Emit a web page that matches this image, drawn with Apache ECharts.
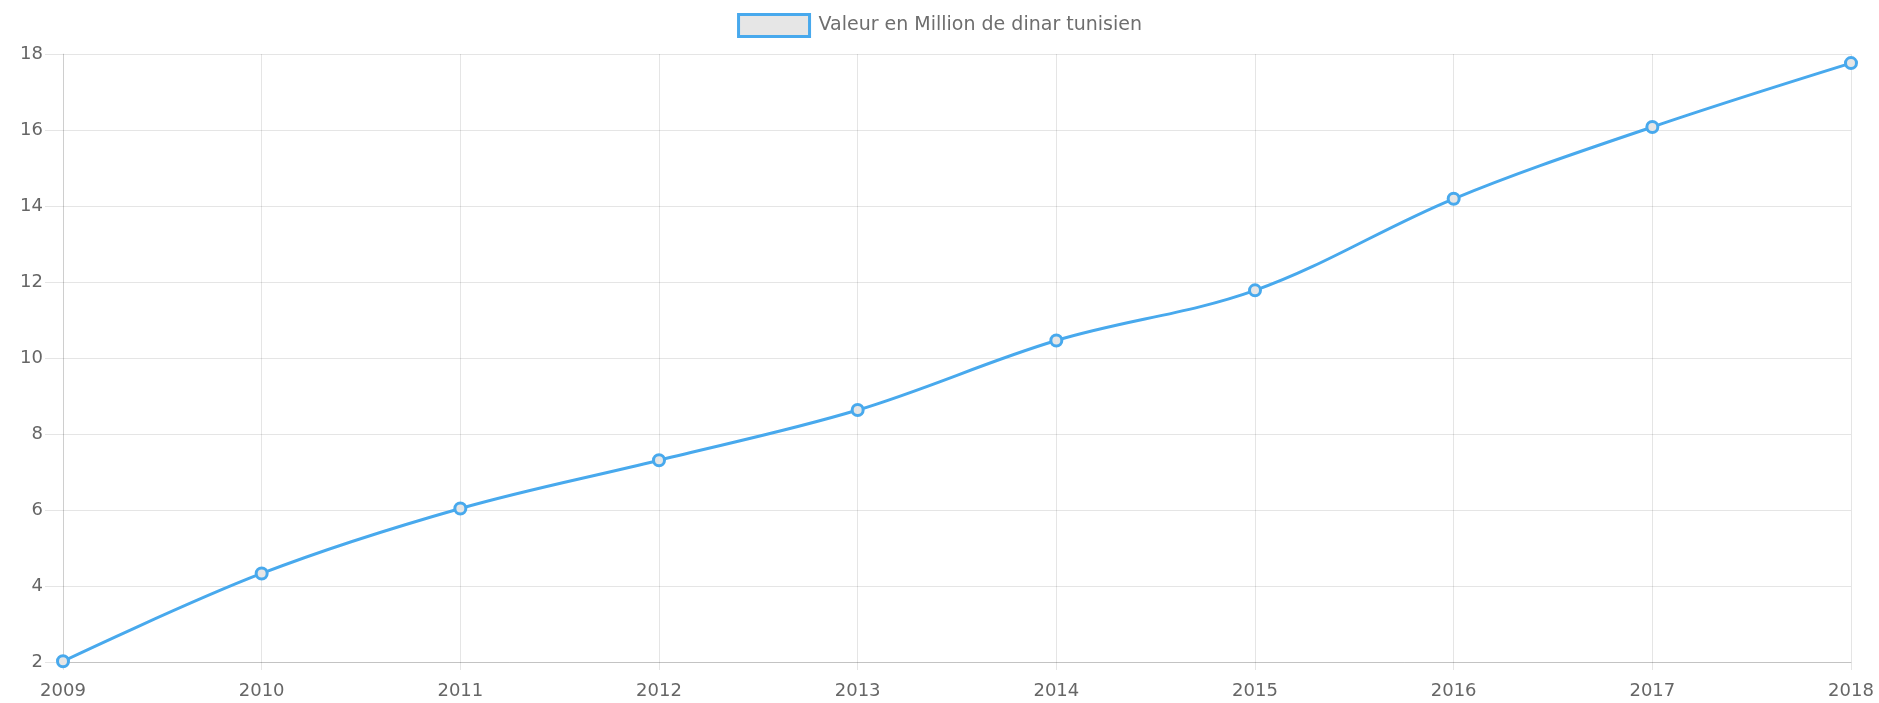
<!DOCTYPE html>
<html>
<head>
<meta charset="utf-8">
<script src="https://cdn.jsdelivr.net/npm/echarts@6/dist/echarts.min.js"></script>
<style>
    html, body { margin: 0; padding: 0; background: #fff; }
    #chartValeur { width: 1879px; height: 703px; }
</style>
</head>
<body>
<div id="chartValeur"></div>
<script>
var annees = ['2009', '2010', '2011', '2012', '2013', '2014', '2015', '2016', '2017', '2018'];
var valeurs = [2.02, 4.33, 6.04, 7.31, 8.63, 10.46, 11.78, 14.19, 16.08, 17.76];
var nomSerie = 'Valeur en Million de dinar tunisien';

var bleu = '#48a9ed';
var grille = 'rgba(0,0,0,0.1)';

var chartValeur = echarts.init(document.getElementById('chartValeur'));

var opt = {
    animation: false,
    textStyle: {
        fontFamily: 'DejaVu Sans, Liberation Sans, sans-serif'
    },
    legend: {
        top: 8,
        left: 'center',
        itemWidth: 71,
        itemHeight: 22,
        itemGap: 10,
        icon: 'rect',
        textStyle: {
            color: '#6e6e6e',
            fontSize: 19,
            padding: [0, 0, 0, 4]
        },
        data: [{
            name: nomSerie,
            itemStyle: {
                color: '#e6e6e6',
                borderColor: bleu,
                borderWidth: 3
            }
        }]
    },
    grid: {
        left: 63,
        right: 28,
        top: 54,
        bottom: 41,
        containLabel: false
    },
    xAxis: {
        type: 'category',
        boundaryGap: false,
        data: annees,
        axisLine: { show: true, lineStyle: { color: 'rgba(0,0,0,0.15)' } },
        axisTick: { show: true, length: 8, lineStyle: { color: grille } },
        axisLabel: { color: '#666', fontSize: 18, margin: 20 },
        splitLine: { show: true, lineStyle: { color: grille } }
    },
    yAxis: {
        type: 'value',
        min: 2,
        max: 18,
        interval: 2,
        axisLine: { show: true, lineStyle: { color: grille } },
        axisTick: { show: true, length: 18, lineStyle: { color: grille } },
        axisLabel: { color: '#666', fontSize: 18, margin: 20 },
        splitLine: { show: true, lineStyle: { color: grille } }
    },
    series: [{
        name: nomSerie,
        type: 'line',
        data: valeurs,
        smooth: 0.35,
        symbol: 'circle',
        symbolSize: 11,
        lineStyle: { color: bleu, width: 3 },
        itemStyle: {
            color: '#e6e6e6',
            borderColor: bleu,
            borderWidth: 3
        }
    }]
};

chartValeur.setOption(opt, true);
chartValeur.resize();
</script>
</body>
</html>
